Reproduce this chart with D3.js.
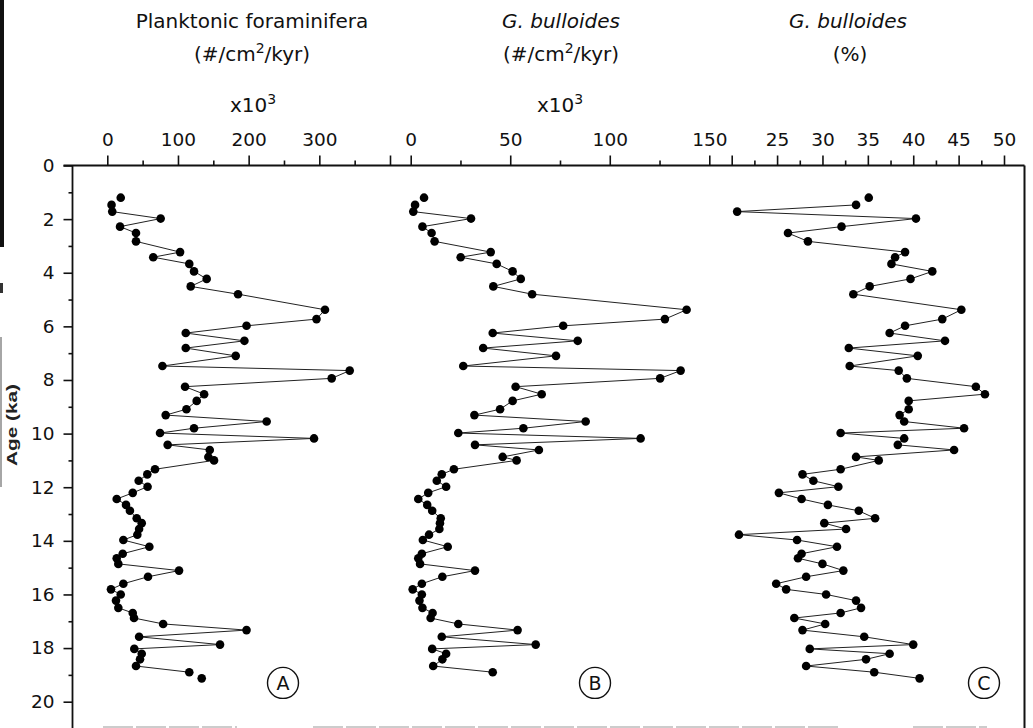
<!DOCTYPE html>
<html lang="en">
<head>
<meta charset="utf-8">
<title>Planktonic foraminifera and G. bulloides</title>
<script src="https://cdn.jsdelivr.net/npm/d3@7"></script>
<style>
  body { margin: 0; background: #fff; }
  svg { display: block; font-family: "DejaVu Sans", sans-serif; }
  .axis text { font-size: 18.5px; fill: #111; font-family: "DejaVu Sans", sans-serif; }
  .axis line { stroke: #111; stroke-width: 1.6; }
  .title { font-size: 20px; fill: #111; text-anchor: middle; }
  .series path { fill: none; stroke: #222; stroke-width: 1; }
  .series circle { fill: #000; }
  .tag circle { fill: none; stroke: #111; stroke-width: 1.4; }
  .tag text { font-size: 19px; text-anchor: middle; fill: #111; }
</style>
</head>
<body>
<script>
// age of each sample (ka)
var ages = [1.2, 1.47, 1.72, 1.98, 2.28, 2.52, 2.83, 3.23, 3.42, 3.67,
  3.95, 4.23, 4.51, 4.8, 5.38, 5.73, 5.98, 6.25, 6.54, 6.81,
  7.1, 7.48, 7.65, 7.94, 8.25, 8.53, 8.78, 9.09, 9.31, 9.55,
  9.8, 9.98, 10.18, 10.42, 10.61, 10.87, 11.0, 11.33, 11.52, 11.76,
  11.98, 12.21, 12.44, 12.66, 12.88, 13.16, 13.34, 13.56, 13.77, 13.97,
  14.22, 14.48, 14.65, 14.86, 15.11, 15.34, 15.6, 15.81, 16.0, 16.23,
  16.5, 16.69, 16.88, 17.1, 17.33, 17.58, 17.87, 18.03, 18.21, 18.42,
  18.67, 18.9, 19.13];

// planktonic foraminifera, #/cm2/kyr x10^3
var planktonic = [19, 6, 7, 75.5, 18, 40.6, 40.6, 103, 65, 116,
  122.7, 140.6, 118, 185, 308, 296, 197, 111, 194, 111,
  181.7, 78, 343, 317.5, 110, 137, 126.5, 112, 82.6, 225.5,
  122.7, 74.6, 292.5, 85.4, 145, 143, 151, 67.5, 56.6, 44.4,
  57, 36, 13.3, 26.5, 32, 41.6, 48.7, 45, 42.5, 22.7,
  59.5, 21.8, 13.3, 15.6, 101.5, 57.6, 22.7, 5.2, 19, 12.3,
  15.6, 36, 37.8, 79, 197, 45, 159.5, 38.2, 48.7, 46.3,
  40.6, 116, 133.6];

// G. bulloides, #/cm2/kyr x10^3
var bullCount = [6.7, 2.2, 1.3, 30.3, 5.9, 10.5, 12, 40.2, 25.1, 43.2,
  51.2, 55.3, 41.5, 61, 138.6, 127.7, 76.6, 41.2, 83.9, 36.4,
  73, 26.4, 135.6, 125.3, 52.7, 65.8, 51.2, 44.9, 32, 87.9,
  56.6, 23.9, 115.5, 32.3, 64.4, 46.2, 53.2, 21.7, 15.6, 13.1,
  17.8, 8.8, 3.8, 8.3, 10.8, 15.1, 14.7, 14.4, 9.2, 6.1,
  18.6, 5.6, 3.8, 4.7, 32.3, 15.9, 5.6, 1.0, 5.6, 4.4,
  5.9, 11, 10, 23.9, 53.7, 15.6, 62.8, 10.8, 17.8, 15.9,
  11.3, 41.2, null];

// G. bulloides, %
var bullPct = [35.1, 33.7, 20.6, 40.3, 32.1, 26.2, 28.4, 39.1, 38.0, 37.6,
  42.1, 39.7, 35.2, 33.4, 45.3, 43.2, 39.1, 37.4, 43.5, 32.9,
  40.5, 33.0, 38.4, 39.3, 46.9, 47.9, 39.5, 39.5, 38.5, 39.0,
  45.6, 32.0, 39.0, 38.3, 44.5, 33.7, 36.2, 32.0, 27.8, 29.0,
  31.75, 25.2, 27.7, 30.6, 34.0, 35.8, 30.2, 32.6, 20.8, 27.2,
  31.6, 27.7, 27.3, 30.0, 32.3, 28.2, 24.9, 26.0, 30.4, 33.7,
  34.25, 32.0, 26.9, 30.3, 27.8, 34.6, 40.0, 28.6, 37.4, 34.8,
  28.2, 35.7, 40.7];

// tick values
var ageMajor = [0, 2, 4, 6, 8, 10, 12, 14, 16, 18, 20];
var ageMinor = [1, 3, 5, 7, 9, 11, 13, 15, 17, 19];
var ticksA = [0, 100, 200, 300, 400], minorA = [50, 150, 250, 350], labelsA = [0, 100, 200, 300];
var ticksB = [0, 50, 100, 150], minorB = [25, 75, 125], labelsB = [0, 50, 100, 150];
var ticksC = [20, 25, 30, 35, 40, 45, 50], minorC = [22.5, 27.5, 32.5, 37.5, 42.5, 47.5], labelsC = [25, 30, 35, 40, 45, 50];

var width = 1033, height = 728;
var left = 72.5, right = 1024.5;

var svg = d3.select("body").append("svg")
    .attr("width", width)
    .attr("height", height);

var y = d3.scaleLinear().domain([0, 21]).range([165.5, 728.5]);
var xA = d3.scaleLinear().domain([0, 400]).range([107.3, 390]);
var xB = d3.scaleLinear().domain([0, 150]).range([410.7, 709.3]);
var xC = d3.scaleLinear().domain([20, 50]).range([731.7, 1004]);

// scan edge on the left
svg.append("rect").attr("x", 0).attr("y", 0).attr("width", 4).attr("height", 247).attr("fill", "#111");
svg.append("rect").attr("x", 0).attr("y", 283).attr("width", 3).attr("height", 10).attr("fill", "#333");
svg.append("line").attr("x1", 1).attr("x2", 1).attr("y1", 337).attr("y2", 487)
    .attr("stroke", "#888").attr("stroke-width", 1.5);

// frame
svg.append("line").attr("x1", left - 9).attr("x2", right).attr("y1", y(0)).attr("y2", y(0))
    .attr("stroke", "#111").attr("stroke-width", 1.8);
svg.append("line").attr("x1", left).attr("x2", left).attr("y1", y(0)).attr("y2", height)
    .attr("stroke", "#111").attr("stroke-width", 1.8);
svg.append("line").attr("x1", right).attr("x2", right).attr("y1", y(0)).attr("y2", height)
    .attr("stroke", "#111").attr("stroke-width", 2);
[[103, 237], [313, 840], [913, 987]].forEach(function(s) {
    svg.append("line").attr("x1", s[0]).attr("x2", s[1]).attr("y1", 727).attr("y2", 727)
        .attr("stroke", "#999").attr("stroke-width", 1.2).attr("stroke-dasharray", "30 3");
});

// top axes
function topAxis(scale, major, minor, labels) {
    svg.append("g").attr("class", "axis")
        .attr("transform", "translate(0," + y(0) + ")")
        .call(d3.axisTop(scale).tickValues(minor).tickSize(5).tickFormat(""))
        .call(function(g) { g.select(".domain").remove(); });
    svg.append("g").attr("class", "axis")
        .attr("transform", "translate(0," + y(0) + ")")
        .call(d3.axisTop(scale).tickValues(major).tickSize(10).tickPadding(10)
            .tickFormat(function(d) { return labels.indexOf(d) >= 0 ? d : ""; }))
        .call(function(g) { g.select(".domain").remove(); });
}
topAxis(xA, ticksA, minorA, labelsA);
topAxis(xB, ticksB, minorB, labelsB);
topAxis(xC, ticksC, minorC, labelsC);

// age axis
svg.append("g").attr("class", "axis")
    .attr("transform", "translate(" + left + ",0)")
    .call(d3.axisLeft(y).tickValues(ageMinor).tickSize(4).tickFormat(""))
    .call(function(g) { g.select(".domain").remove(); });
svg.append("g").attr("class", "axis")
    .attr("transform", "translate(" + left + ",0)")
    .call(d3.axisLeft(y).tickValues(ageMajor).tickSize(9).tickPadding(9))
    .call(function(g) { g.select(".domain").remove(); });

svg.append("text")
    .attr("transform", "translate(12.5,425) rotate(-90)")
    .attr("text-anchor", "middle")
    .attr("dy", "0.35em")
    .attr("textLength", 82)
    .attr("lengthAdjust", "spacingAndGlyphs")
    .style("font-family", "'Liberation Sans', Arial, sans-serif")
    .style("font-weight", "bold")
    .style("font-size", "14px")
    .style("fill", "#222")
    .text("Age (ka)");

// titles
function unitLine(cx, yy) {
    var t = svg.append("text").attr("class", "title").attr("x", cx).attr("y", yy);
    t.append("tspan").text("(#/cm");
    t.append("tspan").attr("dy", -8).style("font-size", "14px").text("2");
    t.append("tspan").attr("dy", 8).text("/kyr)");
}
function times(cx, yy) {
    var t = svg.append("text").attr("class", "title").attr("x", cx).attr("y", yy);
    t.append("tspan").text("x10");
    t.append("tspan").attr("dy", -8).style("font-size", "14px").text("3");
}
svg.append("text").attr("class", "title").attr("x", 252).attr("y", 28).text("Planktonic foraminifera");
unitLine(252, 61);
times(253, 112);
svg.append("text").attr("class", "title").attr("x", 561).attr("y", 28).style("font-style", "italic").text("G. bulloides");
unitLine(561, 61);
times(560, 112);
svg.append("text").attr("class", "title").attr("x", 848).attr("y", 28).style("font-style", "italic").text("G. bulloides");
svg.append("text").attr("class", "title").attr("x", 850).attr("y", 61).text("(%)");

// series
var panels = [
    { vals: planktonic, x: xA, first: 1, last: 71, tag: "A", tx: 283 },
    { vals: bullCount, x: xB, first: 1, last: 71, tag: "B", tx: 595 },
    { vals: bullPct, x: xC, first: 1, last: 72, tag: "C", tx: 984 }
];

panels.forEach(function(p) {
    var pts = ages.map(function(a, i) { return { age: a, v: p.vals[i], i: i }; });
    var g = svg.append("g").attr("class", "series");
    var line = d3.line()
        .defined(function(d) { return d.v != null && d.i >= p.first && d.i <= p.last; })
        .x(function(d) { return p.x(d.v); })
        .y(function(d) { return y(d.age); });
    g.append("path").attr("d", line(pts));
    g.selectAll("circle")
        .data(pts.filter(function(d) { return d.v != null; }))
        .enter().append("circle")
        .attr("cx", function(d) { return p.x(d.v); })
        .attr("cy", function(d) { return y(d.age); })
        .attr("r", 4.3);

    var tag = svg.append("g").attr("class", "tag")
        .attr("transform", "translate(" + p.tx + "," + y(19.3) + ")");
    tag.append("circle").attr("r", 15.5);
    tag.append("text").attr("dy", "0.36em").text(p.tag);
});
</script>
</body>
</html>
